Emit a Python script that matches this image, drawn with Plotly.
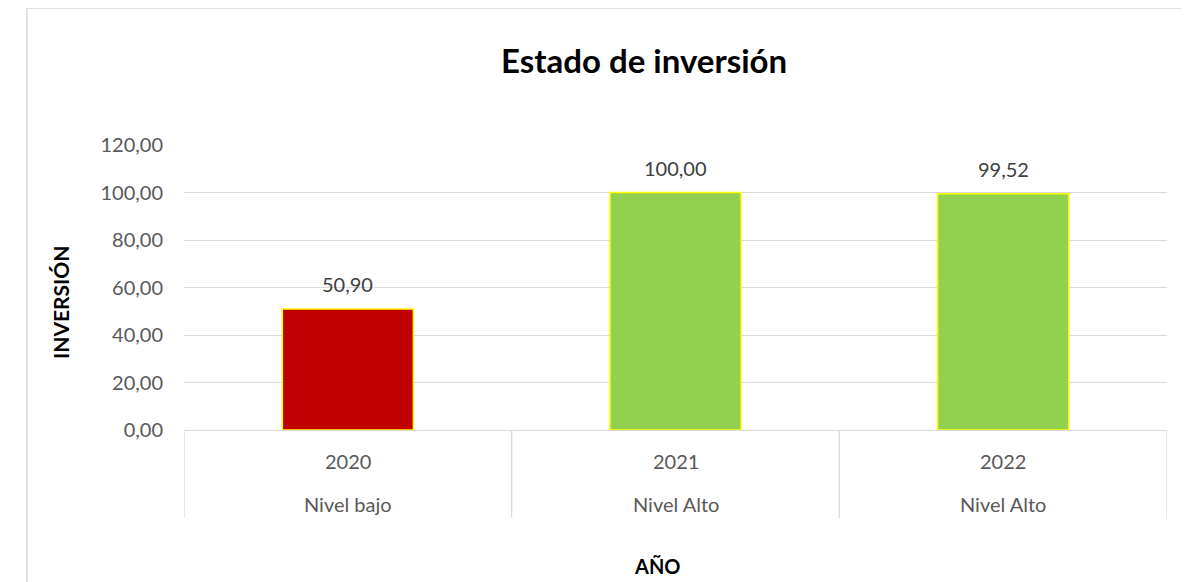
import plotly.graph_objects as go

years = ["2020", "2021", "2022"]
levels = ["Nivel bajo", "Nivel Alto", "Nivel Alto"]
values = [50.90, 100.00, 99.52]
bar_colors = ["#C00000", "#92D050", "#92D050"]
y_ticks = [0, 20, 40, 60, 80, 100, 120]

FONT = "Lato"
OFF = 8  # page body margin
W, H = 1189 - OFF, 582 - OFF
# plot area in screen pixels: x 184..1167, y 145..430
L, T = 184 - OFF, 145 - OFF
R = W - (1167 - OFF)
B = H - (430 - OFF)
ph = H - T - B
pw = W - L - R

def py(sy):
    return ((430 - OFF) - (sy - OFF)) / ph

def pxx(sx):
    return ((sx - OFF) - L) / pw

def fmt(v):
    return f"{v:.2f}".replace(".", ",")

fig = go.Figure()
fig.add_trace(go.Bar(
    x=list(range(len(years))), y=values,
    marker=dict(color=bar_colors, line=dict(color="#FFFF00", width=1.5)),
    width=0.4, hoverinfo="skip",
))

annotations = []
for i, v in enumerate(values):
    annotations.append(dict(x=i, y=v, xref="x", yref="y", text=fmt(v), showarrow=False,
                            yshift=25, font=dict(family=FONT, size=20, color="#404040")))
    annotations.append(dict(x=i, y=py(461), xref="x", yref="paper", text=years[i], showarrow=False,
                            yanchor="middle", font=dict(family=FONT, size=20, color="#595959")))
    annotations.append(dict(x=i, y=py(504), xref="x", yref="paper", text=levels[i], showarrow=False,
                            yanchor="middle", font=dict(family=FONT, size=20, color="#595959")))

annotations.append(dict(x=pxx(657), y=py(566), xref="paper", yref="paper", text="<b>AÑO</b>",
                        showarrow=False, yanchor="middle",
                        font=dict(family=FONT, size=20, color="#000000")))
annotations.append(dict(x=pxx(60), y=py(303), xref="paper", yref="paper", text="<b>INVERSIÓN</b>",
                        showarrow=False, textangle=-90, xanchor="center", yanchor="middle",
                        font=dict(family=FONT, size=21, color="#000000")))
annotations.append(dict(x=pxx(644), y=py(60), xref="paper", yref="paper", text="<b>Estado de inversión</b>",
                        showarrow=False, yanchor="middle",
                        font=dict(family=FONT, size=33, color="#000000")))

shapes = [dict(type="rect", xref="paper", yref="paper", x0=pxx(27), x1=pxx(1240), y0=py(640), y1=py(8),
               line=dict(color="#D9D9D9", width=1.5), layer="below")]
for xb in [-0.5, 0.5, 1.5, 2.5]:
    shapes.append(dict(type="line", xref="x", yref="paper", x0=xb, x1=xb, y0=0, y1=py(518),
                       line=dict(color="#D9D9D9", width=1.2)))

fig.update_layout(
    width=W, height=H, margin=dict(l=L, r=R, t=T, b=B),
    paper_bgcolor="white", plot_bgcolor="white",
    showlegend=False, bargap=0.6,
    annotations=annotations, shapes=shapes,
    xaxis=dict(range=[-0.5, 2.5], showticklabels=False, showgrid=False, zeroline=False,
               showline=True, linecolor="#D9D9D9", linewidth=1.2, ticks=""),
    yaxis=dict(range=[0, 120], tickvals=y_ticks, ticktext=[fmt(v) for v in y_ticks],
               showgrid=True, gridcolor="#D9D9D9", gridwidth=1.2, zeroline=False,
               showline=False, ticks="", ticklabelstandoff=20,
               tickfont=dict(family=FONT, size=20, color="#595959")),
)

fig.write_html("out.html")
